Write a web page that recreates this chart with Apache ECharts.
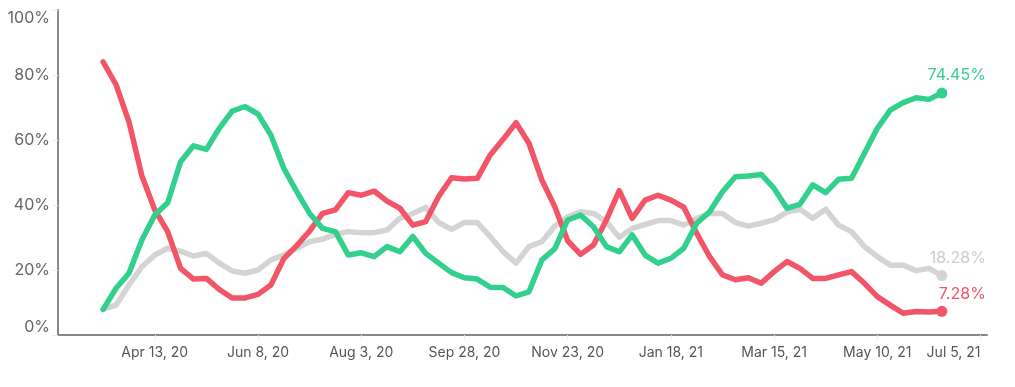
<!DOCTYPE html>
<html>
<head>
<meta charset="utf-8">
<script src="https://cdn.jsdelivr.net/npm/echarts@6/dist/echarts.min.js"></script>
<style>
html,body{margin:0;padding:0;background:#fff;}
#chart{width:1015px;height:387px;}
</style>
</head>
<body>
<div id="chart"></div>
<script>
const categories = [
  "Feb 24, 20","Mar 2, 20","Mar 9, 20","Mar 16, 20","Mar 23, 20","Mar 30, 20","Apr 6, 20","Apr 13, 20",
  "Apr 20, 20","Apr 27, 20","May 4, 20","May 11, 20","May 18, 20","May 25, 20","Jun 1, 20","Jun 8, 20",
  "Jun 15, 20","Jun 22, 20","Jun 29, 20","Jul 6, 20","Jul 13, 20","Jul 20, 20","Jul 27, 20","Aug 3, 20",
  "Aug 10, 20","Aug 17, 20","Aug 24, 20","Aug 31, 20","Sep 7, 20","Sep 14, 20","Sep 21, 20","Sep 28, 20",
  "Oct 5, 20","Oct 12, 20","Oct 19, 20","Oct 26, 20","Nov 2, 20","Nov 9, 20","Nov 16, 20","Nov 23, 20",
  "Nov 30, 20","Dec 7, 20","Dec 14, 20","Dec 21, 20","Dec 28, 20","Jan 4, 21","Jan 11, 21","Jan 18, 21",
  "Jan 25, 21","Feb 1, 21","Feb 8, 21","Feb 15, 21","Feb 22, 21","Mar 1, 21","Mar 8, 21","Mar 15, 21",
  "Mar 22, 21","Mar 29, 21","Apr 5, 21","Apr 12, 21","Apr 19, 21","Apr 26, 21","May 3, 21","May 10, 21",
  "May 17, 21","May 24, 21","May 31, 21","Jun 7, 21","Jun 14, 21","Jun 21, 21","Jun 28, 21","Jul 5, 21"
];
// data runs from "Mar 16, 20" to "Jun 14, 21"
const dataStart = "Mar 16, 20";

const greenValues = [
  7.9, 14.4, 19.0, 29.2, 36.9, 40.7, 53.3, 58.2, 57.1, 63.6, 68.9, 70.3, 68.0, 61.5, 51.3, 44.1,
  37.4, 32.8, 31.8, 24.6, 25.3, 24.1, 27.2, 25.6, 30.3, 25.1, 22.1, 19.2, 17.6, 17.2, 14.7, 14.6,
  12.0, 13.3, 23.1, 26.5, 35.4, 36.9, 33.3, 27.2, 25.6, 30.8, 24.6, 22.1, 23.6, 26.7, 34.4, 37.9,
  44.1, 48.7, 48.9, 49.4, 45.1, 39.0, 40.2, 46.2, 43.8, 47.9, 48.2, 55.9, 63.6, 69.2, 71.5, 73.0,
  72.5, 74.45
];
const grayValues = [
  8.0, 9.2, 15.4, 21.0, 24.6, 26.7, 25.8, 24.3, 25.1, 22.1, 19.7, 19.0, 20.0, 23.1, 24.6, 26.7,
  28.7, 29.5, 31.0, 31.8, 31.5, 31.5, 32.3, 35.9, 37.4, 39.2, 34.6, 32.5, 34.6, 34.6, 30.3, 25.6,
  22.1, 27.2, 28.7, 33.5, 36.4, 37.9, 37.4, 34.9, 30.1, 32.8, 34.0, 35.2, 35.2, 33.8, 35.9, 37.4,
  37.4, 34.6, 33.5, 34.4, 35.4, 37.8, 38.7, 35.9, 38.7, 33.8, 31.8, 27.2, 24.1, 21.5, 21.5, 19.8,
  20.5, 18.28
];
const redValues = [
  84.0, 77.0, 65.6, 49.0, 38.5, 31.8, 20.5, 17.2, 17.4, 14.0, 11.4, 11.4, 12.5, 15.4, 23.5, 27.5,
  32.0, 37.4, 38.5, 43.8, 43.0, 44.3, 41.2, 39.0, 33.8, 34.9, 42.6, 48.4, 48.0, 48.2, 55.4, 60.2,
  65.3, 59.0, 47.7, 39.5, 29.0, 24.8, 27.7, 35.4, 44.4, 35.9, 41.5, 43.0, 41.5, 39.3, 31.3, 24.1,
  18.5, 17.0, 17.6, 15.9, 19.5, 22.6, 20.5, 17.4, 17.4, 18.5, 19.5, 15.9, 11.8, 9.2, 6.7, 7.2,
  7.1, 7.28
];
const yTicks = [0, 20, 40, 60, 80, 100];
const labeledCategories = ["Apr 13, 20","Jun 8, 20","Aug 3, 20","Sep 28, 20","Nov 23, 20","Jan 18, 21","Mar 15, 21","May 10, 21","Jul 5, 21"];

const FONT = 'Inter, "Noto Sans", sans-serif';
const startIdx = categories.indexOf(dataStart);

function buildData(values, color) {
  const out = categories.map(() => null);
  values.forEach((v, k) => {
    const idx = startIdx + k;
    if (k === values.length - 1) {
      out[idx] = {
        value: v,
        symbol: 'circle',
        symbolSize: 11,
        label: {
          show: true,
          position: 'top',
          align: 'right',
          offset: [44, 0],
          distance: 4,
          formatter: v.toFixed(2) + '%',
          color: color,
          fontSize: 16,
          fontFamily: FONT
        }
      };
    } else {
      out[idx] = v;
    }
  });
  return out;
}

function makeSeries(name, values, color, labelColor) {
  return {
    name: name,
    type: 'line',
    data: buildData(values, labelColor),
    symbol: 'none',
    showSymbol: true,
    showAllSymbol: true,
    connectNulls: false,
    animation: false,
    lineStyle: { width: 5.5, color: color, cap: 'round', join: 'round' },
    itemStyle: { color: color },
    label: { show: false },
    emphasis: { disabled: true }
  };
}

const chart = echarts.init(document.getElementById('chart'), null, { renderer: 'canvas' });
chart.setOption({
  animation: false,
  backgroundColor: '#ffffff',
  grid: { left: 58, right: 28, top: 10, bottom: 52, containLabel: false },
  xAxis: {
    type: 'category',
    data: categories,
    boundaryGap: true,
    axisLine: { lineStyle: { color: '#888888', width: 2 } },
    axisTick: {
      show: true,
      alignWithLabel: true,
      length: 4,
      interval: (i, v) => labeledCategories.indexOf(v) >= 0,
      lineStyle: { color: '#e8e8e8', width: 1 }
    },
    axisLabel: {
      interval: (i, v) => labeledCategories.indexOf(v) >= 0,
      color: '#555555',
      fontSize: 14,
      fontFamily: FONT,
      margin: 11,
      alignMaxLabel: 'right'
    },
    splitLine: { show: false }
  },
  yAxis: {
    type: 'value',
    min: yTicks[0],
    max: yTicks[yTicks.length - 1],
    interval: 20,
    axisLine: { show: true, lineStyle: { color: '#888888', width: 2 } },
    axisTick: { show: true, length: 6, lineStyle: { color: '#eeeeee', width: 1 } },
    axisLabel: {
      color: '#666666',
      fontSize: 16,
      fontFamily: FONT,
      margin: 8,
      formatter: v => v + '%',
      verticalAlignMinLabel: 'bottom',
      verticalAlignMaxLabel: 'top'
    },
    splitLine: { show: false }
  },
  series: [
    makeSeries('Gray', grayValues, '#d4d4d4', '#cccccc'),
    makeSeries('Red', redValues, '#f25468', '#f25468'),
    makeSeries('Green', greenValues, '#33cf8d', '#33cf8d')
  ]
});
</script>
</body>
</html>
